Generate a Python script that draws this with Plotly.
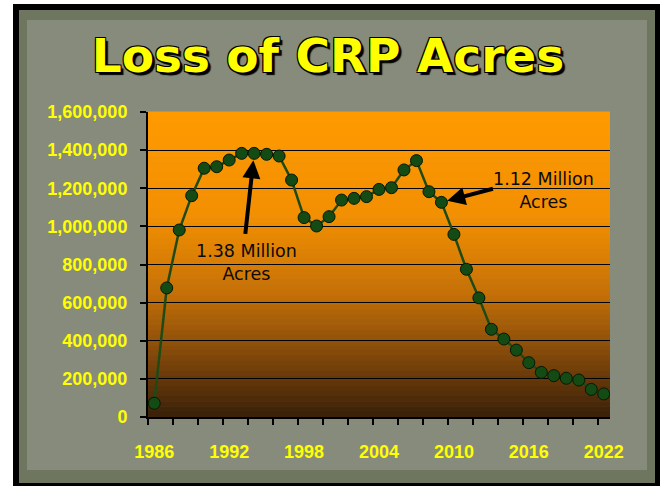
import plotly.graph_objects as go

# CRP acres by year
years = list(range(1986, 2023))
acres = [72000, 677000, 981000, 1161000, 1305000, 1313000, 1348000, 1383000,
         1383000, 1378000, 1369000, 1243000, 1046000, 1002000, 1051000, 1138000,
         1147000, 1156000, 1194000, 1203000, 1296000, 1345000, 1182000, 1126000,
         958000, 775000, 625000, 460000, 409000, 351000, 285000, 234000,
         217000, 203000, 194000, 145000, 121000]
x_labels = [1986, 1992, 1998, 2004, 2010, 2016, 2022]
y_ticks = [0, 200000, 400000, 600000, 800000, 1000000, 1200000, 1400000, 1600000]

W, H = 665, 486
L, R, T, B = 148, 55, 112, 69
pw, ph = W - L - R, H - T - B


def px(x):
    return (x - L) / pw


def py(y):
    return (H - B - y) / ph


fig = go.Figure()
fig.add_trace(go.Scatter(
    x=years, y=acres, mode="lines+markers",
    line=dict(color="#1d4a16", width=2.5),
    marker=dict(size=12, color="#144a14", line=dict(color="#061806", width=1)),
    hoverinfo="x+y", showlegend=False))

shapes = []
# black frame and grey board
shapes.append(dict(type="rect", xref="paper", yref="paper", layer="below",
                   x0=px(13), x1=px(660), y0=py(4), y1=py(490),
                   fillcolor="black", line=dict(width=0)))
shapes.append(dict(type="rect", xref="paper", yref="paper", layer="below",
                   x0=px(19), x1=px(655), y0=py(10), y1=py(483),
                   fillcolor="#6f7660", line=dict(width=0)))
shapes.append(dict(type="rect", xref="paper", yref="paper", layer="below",
                   x0=px(27), x1=px(647), y0=py(20), y1=py(470),
                   fillcolor="#878b7b", line=dict(width=0)))

# orange -> brown gradient behind the plot
stops = [(0.0, (255, 154, 0)), (0.35, (242, 143, 2)), (0.6, (196, 112, 8)),
         (0.85, (112, 62, 10)), (1.0, (56, 32, 8))]
n = 60
for i in range(n):
    t = (i + 0.5) / n
    for j in range(len(stops) - 1):
        if stops[j][0] <= t <= stops[j + 1][0]:
            a, ca = stops[j]
            b, cb = stops[j + 1]
            f = (t - a) / (b - a)
            c = [round(ca[k] + (cb[k] - ca[k]) * f) for k in range(3)]
            break
    shapes.append(dict(type="rect", xref="x domain", yref="y domain", layer="below",
                       x0=0, x1=1, y0=1 - (i + 1) / n, y1=1 - i / n + 0.002,
                       fillcolor="rgb(%d,%d,%d)" % tuple(c), line=dict(width=0)))

tick_font = dict(family="Liberation Sans", size=18, color="#ffff00", weight="bold")
note_font = dict(family="DejaVu Sans", size=17.5, color="#0a0a0a")

i93 = years.index(1994)
i09 = years.index(2009)
annotations = [
    dict(x=years[i93], y=acres[i93], xref="x", yref="y", text="", showarrow=True,
         ax=-9, ay=82, arrowhead=2, arrowsize=0.9, arrowwidth=4, arrowcolor="black",
         standoff=7),
    dict(x=1993.4, y=808000, xref="x", yref="y", text="1.38 Million<br>Acres",
         showarrow=False, font=note_font, xanchor="center", yanchor="middle"),
    dict(x=years[i09], y=acres[i09], xref="x", yref="y", text="", showarrow=True,
         ax=53, ay=-14, arrowhead=2, arrowsize=0.9, arrowwidth=4, arrowcolor="black",
         standoff=6),
    dict(x=2017.2, y=1186000, xref="x", yref="y", text="1.12 Million<br>Acres",
         showarrow=False, font=note_font, xanchor="center", yanchor="middle"),
]

fig.update_layout(
    width=W, height=H,
    margin=dict(l=L, r=R, t=T, b=B),
    paper_bgcolor="white",
    plot_bgcolor="rgba(0,0,0,0)",
    shapes=shapes,
    annotations=annotations,
    title=dict(text="Loss of CRP Acres", x=328 / W, y=1 - 56 / H,
               xanchor="center", yanchor="middle",
               font=dict(family="DejaVu Sans", size=47, color="#ffff00", weight="bold",
                         shadow="-1px -1px 0 #000, 1px -1px 0 #000, -1px 1px 0 #000, "
                                "1px 1px 0 #000, 3px 3px 1px #000")),
)

fig.update_xaxes(
    range=[1985.5, 2022.5], tickvals=x_labels, ticks="", showgrid=False,
    showline=True, linecolor="black", linewidth=2, zeroline=False,
    tickfont=tick_font, ticklabelstandoff=17,
    minor=dict(tick0=1985.5, dtick=2, ticks="outside", ticklen=6,
               tickcolor="black", tickwidth=2, showgrid=False),
)
fig.update_yaxes(
    range=[0, 1600000], tickvals=y_ticks, tickformat=",d",
    showgrid=True, gridcolor="black", gridwidth=1,
    showline=True, linecolor="black", linewidth=2, zeroline=False,
    ticks="outside", ticklen=6, tickcolor="black", tickwidth=2,
    tickfont=tick_font, ticklabelstandoff=9,
)

fig.write_html("out.html", config={"displayModeBar": False},
               post_script="document.body.style.margin='0';")
